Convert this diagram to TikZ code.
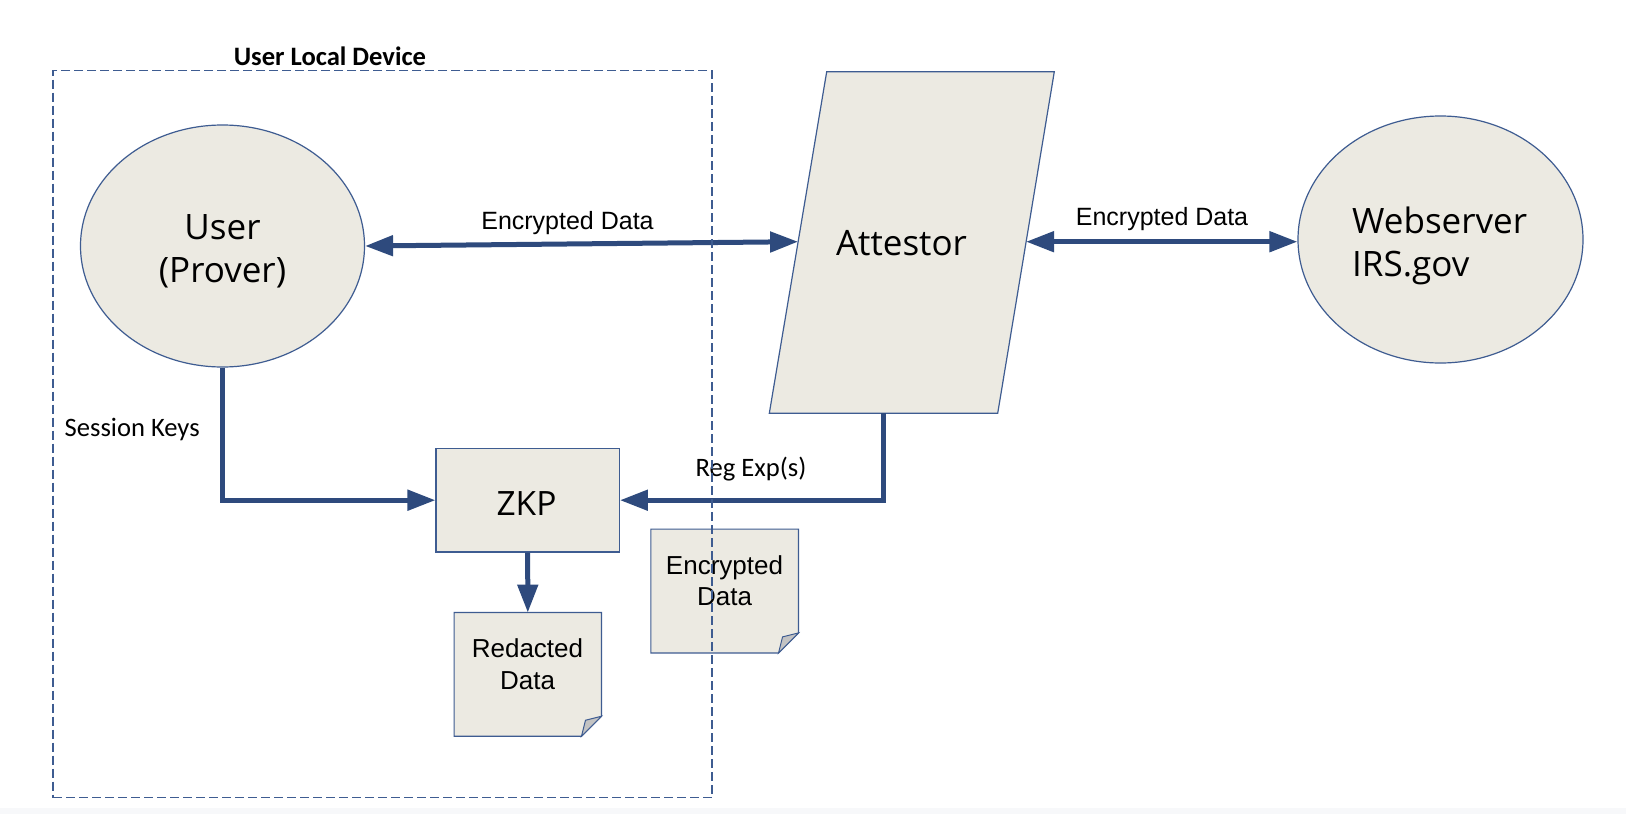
\documentclass[tikz,border=0pt]{standalone}
\usepackage{fontspec}
\setmainfont{Liberation Sans}
\newfontfamily\osans{Open Sans}
\newfontfamily\carl{Carlito}
\usetikzlibrary{arrows.meta,shapes.geometric}
\definecolor{arrowblue}{RGB}{46,74,125}
\definecolor{edgeblue}{RGB}{62,92,145}
\definecolor{paper}{RGB}{236,234,226}
\definecolor{foldgrey}{RGB}{195,195,195}
\definecolor{stripgrey}{RGB}{247,248,250}
\begin{document}
\begin{tikzpicture}[x=1pt,y=-1pt,
  shapeedge/.style={draw=edgeblue,line width=1.2pt,fill=paper},
  oval/.style={ellipse,shapeedge,inner sep=0pt},
  boxshape/.style={rectangle,shapeedge,inner sep=0pt},
  docspot/.style={rectangle,inner sep=0pt},
  foldflap/.style={draw=edgeblue,line width=1pt,fill=foldgrey},
  flow/.style={draw=arrowblue,line width=5pt,-{Triangle[length=28pt,width=20pt]}},
  biflow/.style={draw=arrowblue,line width=5pt,{Triangle[length=28pt,width=20pt]}-{Triangle[length=28pt,width=20pt]}},
  txt/.style={inner sep=0pt,text=black},
  bigfont/.style={font=\osans\fontsize{35}{43}\selectfont},
  docfont/.style={font=\fontsize{26}{31.5}\selectfont},
  arrowfont/.style={font=\fontsize{25}{30}\selectfont},
  calfont/.style={font=\carl\fontsize{26.6}{32}\selectfont},
  devbox/.style={draw=edgeblue,line width=1.2pt,dash pattern=on 9pt off 4pt,inner sep=0pt}
]
% canvas
\fill[white] (0,0) rectangle (1626,814);
\fill[stripgrey] (0,808) rectangle (1626,814);
\useasboundingbox (0,0) rectangle (1626,814);

% shapes
\node[oval,minimum width=284pt,minimum height=242pt] (user) at (222.5,246) {};
\node[oval,minimum width=285pt,minimum height=247pt] (web) at (1440.5,239.5) {};
\filldraw[shapeedge] (826.7,71.7) coordinate (attTL) -- (1054.3,71.7) coordinate (attTR)
  -- (997.7,413.3) coordinate (attBR) -- (769.3,413.3) coordinate (attBL) -- cycle;
\coordinate (attL) at (798.1,241.7);
\coordinate (attR) at (1026.1,241.7);
\coordinate (attB) at (883.7,413.3);
\node[boxshape,minimum width=183.3pt,minimum height=103.7pt] (zkp) at (527.7,500.2) {};

\node[docspot,minimum width=147pt,minimum height=123.3pt] (red) at (527.8,674.4) {};
\draw[shapeedge] (red.north west) -- (red.north east) -- ([yshift=20pt]red.south east)
  -- ([xshift=-20pt]red.south east) -- (red.south west) -- cycle;
\draw[foldflap] ([yshift=20pt]red.south east) -- ([xshift=-20pt]red.south east)
  -- ([xshift=-16pt,yshift=16pt]red.south east) -- cycle;

\node[docspot,minimum width=147.3pt,minimum height=123.4pt] (enc) at (724.7,591) {};
\draw[shapeedge] (enc.north west) -- (enc.north east) -- ([yshift=20pt]enc.south east)
  -- ([xshift=-20pt]enc.south east) -- (enc.south west) -- cycle;
\draw[foldflap] ([yshift=20pt]enc.south east) -- ([xshift=-20pt]enc.south east)
  -- ([xshift=-16pt,yshift=16pt]enc.south east) -- cycle;

% connectors
\draw[biflow] (user.east) -- (attL);
\draw[biflow] (attR) -- (attR -| web.west);
\draw[flow] (user.south) |- (zkp.west);
\draw[flow] (attB) |- (zkp.east);
\draw[flow] (zkp.south) -- (red.north);

% texts
\node[txt,bigfont,align=center] (userlbl) at (222.5,251.2) {User\\(Prover)};
\node[txt,bigfont,align=left,anchor=west] (weblbl) at (1352,246.1) {Webserver\\IRS.gov};
\node[txt,bigfont,anchor=base] (attlbl) at (901.5,255) {Attestor};
\node[txt,font=\osans\fontsize{33.5}{40}\selectfont,anchor=base] (zkplbl) at (526.5,515.5) {ZKP};
\node[txt,docfont,align=center] (redlbl) at (527.5,664) {Redacted\\Data};
\node[txt,docfont,align=center] (enclbl) at (724.5,580.9) {Encrypted\\Data};
\node[txt,arrowfont,anchor=base] (e1lbl) at (567.5,229) {Encrypted Data};
\node[txt,arrowfont,anchor=base] (e2lbl) at (1162,225.7) {Encrypted Data};
\node[txt,calfont,anchor=base west] (sklbl) at (64.5,436.7) {Session Keys};
\node[txt,calfont,anchor=base] (relbl) at (751,476.7) {Reg Exp(s)};

% user local device boundary
\node[devbox,minimum width=659pt,minimum height=727pt] (dev) at (382.5,434) {};
\node[txt,font=\carl\bfseries\fontsize{26.6}{32}\selectfont,anchor=base] (devlbl) at (330,65) {User Local Device};
\end{tikzpicture}
\end{document}
